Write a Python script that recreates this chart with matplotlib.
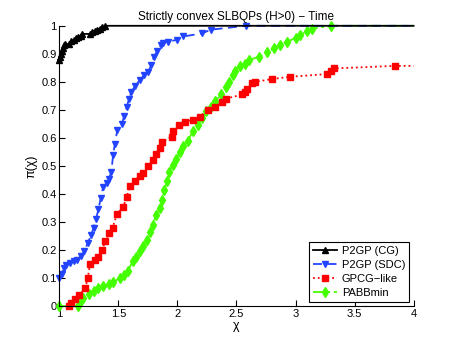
import matplotlib
matplotlib.use("Agg")
import matplotlib.pyplot as plt
from matplotlib.ticker import FormatStrFormatter

plt.rcParams['font.family'] = ['Liberation Sans', 'DejaVu Sans']

# P2GP (CG)
cg_x = [1.0, 1.005, 1.01, 1.02, 1.03, 1.04, 1.05, 1.08, 1.10, 1.12, 1.14, 1.16, 1.18, 1.19,
        1.26, 1.28, 1.30, 1.32, 1.34, 1.36, 1.39, 4.0]
cg_y = [0.878, 0.89, 0.90, 0.91, 0.92, 0.93, 0.935, 0.935, 0.945, 0.95, 0.955, 0.96, 0.965, 0.971,
        0.971, 0.978, 0.982, 0.986, 0.99, 0.995, 1.0, 1.0]

# P2GP (SDC)
sdc_x = [1.0, 1.02, 1.04, 1.06, 1.09, 1.12, 1.15, 1.18, 1.21, 1.24, 1.27, 1.29, 1.31, 1.33, 1.35,
         1.37, 1.40, 1.42, 1.44, 1.455, 1.47, 1.49, 1.53, 1.55, 1.57, 1.59, 1.61, 1.64, 1.68, 1.72,
         1.75, 1.78, 1.80, 1.83, 1.86, 1.88, 1.92, 2.00, 2.05, 2.21, 2.28, 2.58, 4.0]
sdc_y = [0.10, 0.115, 0.135, 0.148, 0.155, 0.161, 0.165, 0.178, 0.195, 0.225, 0.255, 0.28, 0.31,
         0.345, 0.385, 0.424, 0.44, 0.455, 0.48, 0.54, 0.58, 0.627, 0.651, 0.68, 0.711, 0.74, 0.765,
         0.785, 0.806, 0.825, 0.835, 0.86, 0.89, 0.91, 0.93, 0.938, 0.944, 0.95, 0.962, 0.973, 0.986,
         1.0, 1.0]

# GPCG-like
gpcg_x = [1.08, 1.10, 1.13, 1.17, 1.22, 1.24, 1.26, 1.30, 1.33, 1.36, 1.39, 1.42, 1.45, 1.49, 1.54,
          1.57, 1.60, 1.64, 1.68, 1.71, 1.75, 1.79, 1.82, 1.85, 1.87, 1.95, 1.96, 2.01, 2.06, 2.13,
          2.19, 2.26, 2.32, 2.38, 2.41, 2.55, 2.57, 2.59, 2.63, 2.66, 2.80, 2.95, 3.27, 3.30, 3.33,
          3.84, 4.0]
gpcg_y = [0.0, 0.012, 0.025, 0.04, 0.066, 0.10, 0.15, 0.165, 0.175, 0.20, 0.233, 0.262, 0.28, 0.33,
          0.353, 0.39, 0.43, 0.448, 0.465, 0.475, 0.50, 0.52, 0.544, 0.565, 0.585, 0.605, 0.625,
          0.645, 0.657, 0.665, 0.676, 0.699, 0.711, 0.729, 0.74, 0.755, 0.765, 0.776, 0.795, 0.80,
          0.81, 0.818, 0.828, 0.837, 0.848, 0.857, 0.857]

# PABBmin
pabb_x = [1.0, 1.16, 1.18, 1.20, 1.25, 1.29, 1.33, 1.37, 1.42, 1.455, 1.51, 1.55, 1.58, 1.62, 1.65,
          1.68, 1.71, 1.74, 1.77, 1.79, 1.82, 1.85, 1.87, 1.89, 1.91, 1.93, 1.96, 1.99, 2.02, 2.05,
          2.09, 2.13, 2.17, 2.21, 2.24, 2.28, 2.32, 2.37, 2.41, 2.44, 2.47, 2.49, 2.53, 2.57, 2.61,
          2.69, 2.76, 2.82, 2.87, 2.93, 3.00, 3.04, 3.10, 3.14, 3.30, 4.0]
pabb_y = [0.0, 0.0, 0.02, 0.03, 0.045, 0.054, 0.065, 0.072, 0.08, 0.085, 0.10, 0.11, 0.125, 0.16,
          0.175, 0.195, 0.215, 0.235, 0.265, 0.29, 0.325, 0.35, 0.38, 0.415, 0.445, 0.48, 0.505,
          0.525, 0.55, 0.57, 0.59, 0.625, 0.645, 0.67, 0.695, 0.71, 0.73, 0.755, 0.78, 0.80, 0.825,
          0.84, 0.855, 0.865, 0.878, 0.89, 0.905, 0.92, 0.932, 0.944, 0.956, 0.968, 0.98, 0.99,
          1.0, 1.0]

labels = ['P2GP (CG)', 'P2GP (SDC)', 'GPCG\u2212like', 'PABBmin']

fig = plt.figure(figsize=(4.57, 3.44), dpi=100)
ax = fig.add_axes([0.13, 0.11, 0.775, 0.815])

green = '#44ff00'
blue = '#2244ff'
series = [
    (pabb_x, pabb_y, green, (0, (6, 2, 1.5, 2)), 'd', labels[3]),
    (gpcg_x, gpcg_y, 'red', ':', 's', labels[2]),
    (sdc_x, sdc_y, blue, (0, (5, 3)), 'v', labels[1]),
    (cg_x, cg_y, 'black', '-', '^', labels[0]),
]
handles = {}
for xs, ys, c, ls, m, lab in series:
    h, = ax.plot(xs, ys, color=c, linestyle=ls, linewidth=1.3, marker=m, markersize=5,
                 markerfacecolor=c, markeredgecolor=c, markevery=list(range(len(xs) - 1)),
                 label=lab, clip_on=False)
    handles[lab] = h

ax.set_xlim(1, 4)
ax.set_ylim(0, 1)
ax.set_xticks([1, 1.5, 2, 2.5, 3, 3.5, 4])
ax.set_yticks([0, 0.1, 0.2, 0.3, 0.4, 0.5, 0.6, 0.7, 0.8, 0.9, 1])
ax.xaxis.set_major_formatter(FormatStrFormatter('%g'))
ax.yaxis.set_major_formatter(FormatStrFormatter('%g'))
ax.tick_params(direction='in', length=4, width=0.8, labelsize=8, pad=2)
for s in ['top', 'right']:
    ax.spines[s].set_visible(False)
for s in ['left', 'bottom']:
    ax.spines[s].set_linewidth(0.8)

ax.set_title('Strictly convex SLBQPs (H>0) \u2212 Time', fontsize=8.5, pad=4)
ax.set_xlabel('\u03c7', fontsize=9, labelpad=1)
ax.set_ylabel('\u03c0(\u03c7)', fontsize=9, labelpad=3)

leg = ax.legend([handles[l] for l in labels], labels, loc='lower right',
                bbox_to_anchor=(1.0, 0.0), fontsize=8, fancybox=False, framealpha=1,
                edgecolor='black', handlelength=2.2, handletextpad=0.4,
                borderpad=0.35, labelspacing=0.35, borderaxespad=0.4)
leg.get_frame().set_linewidth(0.8)

fig.savefig('out.png', dpi=100)
